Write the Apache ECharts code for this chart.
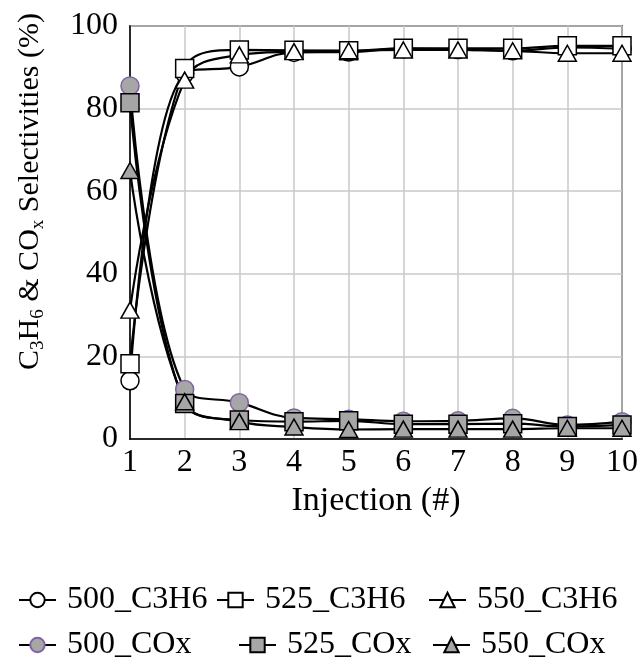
<!DOCTYPE html>
<html>
<head>
<meta charset="utf-8">
<script src="https://cdn.jsdelivr.net/npm/echarts@6/dist/echarts.min.js"></script>
<style>
html,body{margin:0;padding:0;background:#fff;}
#chart{width:642px;height:662px;}
</style>
</head>
<body>
<div id="chart"></div>
<script>
var injections = ['1','2','3','4','5','6','7','8','9','10'];
var yTicks = [0, 20, 40, 60, 80, 100];
var c3h6_500 = [14.1, 88.5, 90.1, 93.6, 93.7, 94.5, 94.3, 94.0, 94.8, 94.5];
var c3h6_525 = [18.2, 89.7, 94.2, 94.1, 94.0, 94.6, 94.6, 94.6, 95.2, 95.2];
var c3h6_550 = [31.2, 86.9, 93.0, 93.8, 94.0, 94.2, 94.2, 94.0, 93.4, 93.4];
var cox_500 = [85.5, 12.0, 8.8, 5.1, 4.8, 4.3, 4.4, 5.0, 3.4, 4.2];
var cox_525 = [81.4, 8.6, 4.6, 4.2, 4.4, 3.6, 3.6, 3.7, 3.0, 3.4];
var cox_550 = [65.0, 9.0, 4.2, 2.9, 2.3, 2.4, 2.4, 2.4, 2.6, 2.6];
var seriesNames = ['500_C3H6', '525_C3H6', '550_C3H6', '500_COx', '525_COx', '550_COx'];

var FONT = '"Liberation Serif", "Times New Roman", serif';
var chart = echarts.init(document.getElementById('chart'), null, {renderer: 'canvas'});

function mk(name, data, symbol, size, fill, border) {
  return {
    name: name,
    type: 'line',
    data: data,
    smooth: 0.4,
    symbol: symbol,
    symbolSize: size,
    showAllSymbol: true,
    lineStyle: {color: '#000', width: 2.2},
    itemStyle: {color: fill, borderColor: border, borderWidth: 1.5},
    emphasis: {disabled: true},
    z: 2
  };
}

var series = [
  mk(seriesNames[0], c3h6_500, 'circle', 18, '#ffffff', '#000'),
  mk(seriesNames[1], c3h6_525, 'rect', 18, '#ffffff', '#000'),
  mk(seriesNames[2], c3h6_550, 'triangle', [18, 16], '#ffffff', '#000'),
  mk(seriesNames[3], cox_500, 'circle', 18, '#a6a6a6', '#8064a2'),
  mk(seriesNames[4], cox_525, 'rect', 18, '#a6a6a6', '#000'),
  mk(seriesNames[5], cox_550, 'triangle', [18, 16], '#a6a6a6', '#000')
];

function legendAt(name, left, top) {
  return {
    data: [name],
    left: left,
    top: top,
    orient: 'horizontal',
    itemWidth: 37,
    itemHeight: 18,
    padding: 0,
    selectedMode: false,
    textStyle: {fontFamily: FONT, fontSize: 32, color: '#000', padding: [0, 0, 0, 6]}
  };
}

var legendLefts = [18, 216, 428, 18, 238, 432];
var legendTops = [584, 584, 584, 629, 629, 629];
var legends = seriesNames.map(function (n, i) { return legendAt(n, legendLefts[i], legendTops[i]); });

chart.setOption({
  animation: false,
  backgroundColor: '#fff',
  grid: {left: 130, right: 20, top: 26, bottom: 223, show: true, borderColor: '#000', borderWidth: 1.5, backgroundColor: 'transparent'},
  legend: legends,
  xAxis: {
    type: 'category',
    data: injections,
    boundaryGap: false,
    name: 'Injection (#)',
    nameLocation: 'middle',
    nameGap: 40,
    nameTextStyle: {fontFamily: FONT, fontSize: 34, color: '#000'},
    axisLine: {lineStyle: {color: '#000', width: 1.5}},
    axisTick: {show: false},
    axisLabel: {fontFamily: FONT, fontSize: 32, color: '#000', margin: 8},
    splitLine: {show: true, lineStyle: {color: '#c8c8c8', width: 1.5}}
  },
  yAxis: {
    type: 'value',
    min: yTicks[0],
    max: yTicks[yTicks.length - 1],
    interval: yTicks[1] - yTicks[0],
    name: '{m|C}{s|3}{m|H}{s|6}{m| & CO}{s|x}{m| Selectivities (%)}',
    nameLocation: 'middle',
    nameRotate: 90,
    nameGap: 82,
    nameTextStyle: {
      padding: [0, 0, 0, 82],
      rich: {
        m: {fontFamily: FONT, fontSize: 30, color: '#000', lineHeight: 36},
        s: {fontFamily: FONT, fontSize: 19, color: '#000', lineHeight: 14, verticalAlign: 'bottom'}
      }
    },
    axisLine: {show: true, lineStyle: {color: '#000', width: 1.5}},
    axisTick: {show: false},
    axisLabel: {fontFamily: FONT, fontSize: 32, color: '#000', margin: 12},
    splitLine: {show: true, lineStyle: {color: '#c8c8c8', width: 1.5}}
  },
  series: series
});
</script>
</body>
</html>
